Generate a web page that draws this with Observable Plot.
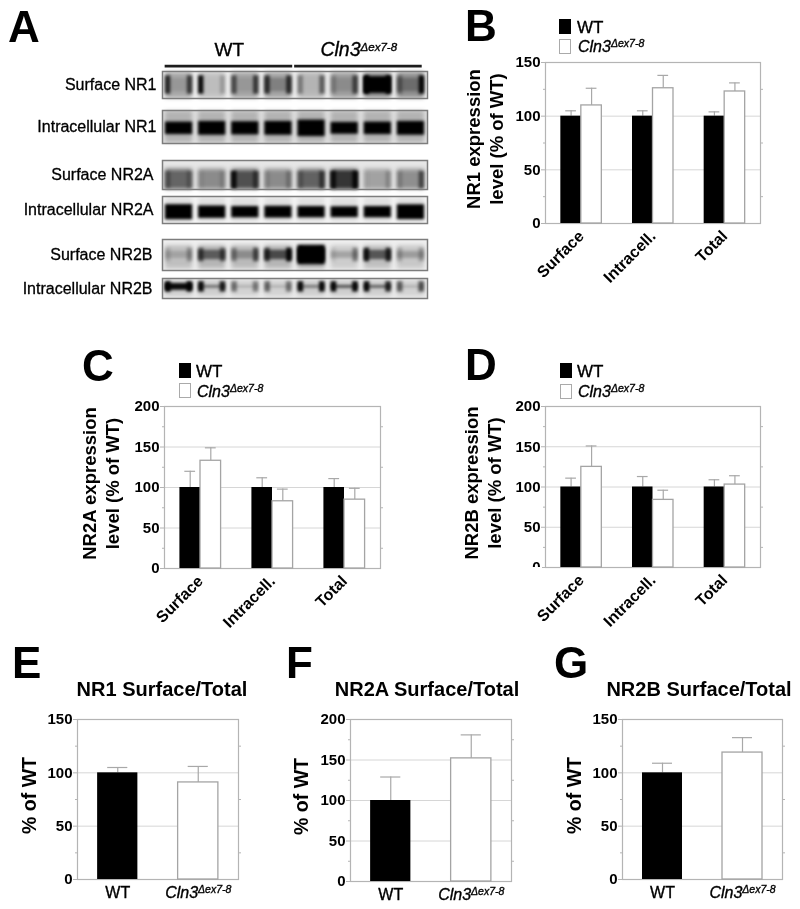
<!DOCTYPE html>
<html><head><meta charset="utf-8">
<script src="https://cdn.jsdelivr.net/npm/d3@7"></script>
<script src="https://cdn.jsdelivr.net/npm/@observablehq/plot@0.6"></script>
<style>
html,body{margin:0;padding:0;background:#fff}
#page{position:relative;width:800px;height:909px;overflow:hidden;background:#fff;font-family:"Liberation Sans",Arial,sans-serif;color:#000}
#page svg{position:absolute;overflow:visible;background:transparent}
.t{position:absolute;white-space:nowrap;line-height:1}
.soft{filter:blur(0.5px)}
</style></head><body><div id="page" class="soft"></div>
<script>
// ---------- data ----------
const groups = ["Surface","Intracell.","Total"];
const seriesNames = ["WT","Cln3Δex7-8"];

const nr1Wt=[100,100,100], nr1WtUp=[105,105,104], nr1Ko=[110,126,123], nr1KoUp=[126,138,131];
const nr2aWt=[100,100,100], nr2aWtUp=[120,112,111], nr2aKo=[133,83,85], nr2aKoUp=[149,98,99];
const nr2bWt=[100,100,100], nr2bWtUp=[111,113,109], nr2bKo=[125,84,103], nr2bKoUp=[151,96,114];

const ratioNr1=[100,91], ratioNr1Up=[105,106];
const ratioNr2a=[100,152], ratioNr2aUp=[129,181];
const ratioNr2b=[100,119], ratioNr2bUp=[109,133];

const blotNames=["Surface NR1","Intracellular NR1","Surface NR2A","Intracellular NR2A","Surface NR2B","Intracellular NR2B"];
const blotSmear=[
 [.3,.2,.32,.32,.24,.34,.4,.4],
 [.2,.2,.2,.2,.2,.2,.2,.2],
 [.5,.38,.5,.36,.48,.58,.28,.34],
 [.08,.08,.08,.08,.08,.08,.08,.08],
 [.2,.24,.22,.24,.26,.14,.2,.16],
 [.12,.12,.1,.1,.12,.12,.12,.1]];
const blotCore=[
 [.1,.02,.08,.22,.02,.12,1,.25],
 [1,1,1,1,1,1,1,1],
 [.12,.02,.3,.05,.18,.45,.02,.05],
 [1,1,1,1,1,1,1,1],
 [.15,.5,.25,.6,1,.2,.55,.22],
 [.95,.55,.22,.22,.5,.75,.65,.22]];
const blotSize=[
 [.5,.5,.5,.5,.5,.5,.62,.5],
 [.38,.42,.4,.42,.5,.36,.38,.42],
 [.55,.5,.55,.5,.55,.6,.5,.5],
 [.56,.46,.42,.44,.42,.4,.42,.55],
 [.22,.3,.26,.3,.62,.22,.3,.22],
 [.34,.12,.1,.1,.12,.12,.12,.1]];
const blotLeft=[
 [.75,.95,.55,.7,.35,.2,1,.35],
 [0,0,0,0,0,0,0,0],
 [.3,.08,.9,.12,.25,.8,.04,.18],
 [0,0,0,0,0,0,0,0],
 [.15,.55,.35,.65,1,.08,.85,.2],
 [.95,.95,.45,.5,.95,.95,.95,.55]];
const blotRight=[
 [.65,.2,.65,.7,.5,.6,.9,.95],
 [0,0,0,0,0,0,0,0],
 [.25,.15,.5,.25,.55,.9,.2,.55],
 [0,0,0,0,0,0,0,0],
 [.3,.5,.6,.95,.9,.4,.75,.25],
 [.9,.85,.4,.45,.95,.95,.8,.6]];

const laneSpans=[{name:"WT",from:0,to:4},{name:"Cln3Δex7-8",from:4,to:8}];

// ---------- layout ----------
const page=document.getElementById("page");
const FONT='"Liberation Sans",Arial,sans-serif';
function place(svg,left,top){svg.style.left=left+"px";svg.style.top=top+"px";page.appendChild(svg);return svg;}
function cln3Tspans(svg,big,small){
  svg.querySelectorAll("text").forEach(el=>{
    const host=el.querySelector("tspan")||el;
    const s=(host.textContent||"").trim();
    if(s===seriesNames[0]){el.setAttribute("stroke","#000");el.setAttribute("stroke-width",".35");el.setAttribute("fill","#000");}
    if(s!==seriesNames[1])return;
    el.setAttribute("stroke","#000");el.setAttribute("stroke-width",".35");el.setAttribute("fill","#000");
    host.textContent="";
    const a=document.createElementNS("http://www.w3.org/2000/svg","tspan");
    a.textContent="Cln3";a.setAttribute("font-style","italic");a.setAttribute("font-size",big);
    const b=document.createElementNS("http://www.w3.org/2000/svg","tspan");
    b.textContent="Δex7-8";b.setAttribute("font-style","italic");b.setAttribute("font-size",small);
    b.setAttribute("dy","-5");
    host.appendChild(a);host.appendChild(b);
  });
}
function textAt(x,baseline,size,html,style=""){
  const d=document.createElement("div");d.className="t";
  d.style.cssText=`left:${x}px;top:${baseline-0.8465*size}px;font-size:${size}px;${style}`;
  d.innerHTML=html;page.appendChild(d);return d;
}
function legend(sx,y1,y2,tx,b1,b2){
  const sw=(y,fill,stroke)=>{const d=document.createElement("div");
    d.style.cssText=`position:absolute;left:${sx}px;top:${y}px;width:10px;height:13px;background:${fill};border:1px solid ${stroke}`;page.appendChild(d);};
  sw(y1,"#000","#000");sw(y2,"#fff","#aaa");
  textAt(tx,b1,17,"WT","-webkit-text-stroke:.35px #000");
  textAt(tx+1,b2,16,'<i>Cln3</i><sup style="font-size:10.5px;line-height:0;vertical-align:5px"><i>Δex7-8</i></sup>',"-webkit-text-stroke:.35px #000");
}

function barPanel({cats,rows,ymax,major,minor,frame,ylabel,ylabelDx,barHalf,capHalf,rotated,tickSize:ts=15,yLabelSize=18.5}){
  const [L,T,R,B]=frame;
  const ml=70,mr=8,mt=6,mb=78;
  const n=cats.length;
  const data=rows.map(r=>{
    const c=r.group+0.5;
    return {...r,x1:r.series===0?(n===2?r.group+.5-barHalf:c-2*barHalf):(n===2?r.group+.5-barHalf:c),
      x2:r.series===0?(n===2?r.group+.5+barHalf:c):(n===2?r.group+.5+barHalf:c+2*barHalf)};
  }).map(r=>({...r,xc:(r.x1+r.x2)/2,c1:(r.x1+r.x2)/2-capHalf,c2:(r.x1+r.x2)/2+capHalf}));
  const gridColor="#d6d6d6",lineColor="#b4b4b4";
  const svg=Plot.plot({
    width:R-L+ml+mr,height:B-T+mt+mb,
    marginLeft:ml,marginRight:mr,marginTop:mt,marginBottom:mb,
    x:{domain:[0,n],axis:null},
    y:{domain:[0,ymax],axis:null},
    style:{fontFamily:FONT,fontWeight:"bold",fontSize:ts+"px",background:"transparent",color:"#000",overflow:"visible"},
    marks:[
      Plot.ruleY(major.filter(v=>v>0&&v<ymax),{stroke:gridColor,strokeWidth:1}),
      Plot.frame({stroke:lineColor,strokeWidth:1.2}),
      Plot.axisY({anchor:"right",ticks:minor,tickSize:2,tickFormat:()=>"",label:null,stroke:lineColor}),
      Plot.axisY({anchor:"left",ticks:minor,tickSize:2,tickFormat:()=>"",label:null,stroke:lineColor}),
      Plot.axisY({anchor:"left",ticks:major,tickSize:4,tickPadding:1,label:null,stroke:lineColor,fill:"#000",fontSize:ts,fontWeight:"bold"}),
      Plot.ruleX(data,{x:"xc",y1:"value",y2:"upper",stroke:"#a8a8a8",strokeWidth:1.2}),
      Plot.ruleY(data,{x1:"c1",x2:"c2",y:"upper",stroke:"#a8a8a8",strokeWidth:1.2}),
      Plot.rect(data.filter(d=>d.series===0),{x1:"x1",x2:"x2",y1:0,y2:"value",fill:"#000"}),
      Plot.rect(data.filter(d=>d.series===1),{x1:"x1",x2:"x2",y1:0,y2:"value",fill:"#fff",stroke:"#a4a4a4",strokeWidth:1.3}),
      rotated
       ? Plot.axisX({anchor:"bottom",ticks:cats.map((_,i)=>i+.5),tickFormat:v=>cats[Math.floor(v)],tickSize:0,tickPadding:10,tickRotate:-45,label:null,fontSize:16,fontWeight:"bold"})
       : Plot.axisX({anchor:"bottom",ticks:cats.map((_,i)=>i+.5),tickFormat:v=>cats[Math.floor(v)],tickSize:0,tickPadding:7,label:null,fontSize:16,fontWeight:"normal"}),
      Plot.text([ylabel],{frameAnchor:"left",dx:ylabelDx,dy:-4,rotate:-90,fontSize:yLabelSize,fontWeight:"bold",lineHeight:1.24,textAnchor:"middle"})
    ]
  });
  cln3Tspans(svg,"16px","10.5px");
  return place(svg,L-ml,T-mt);
}
function groupRows(wt,wtUp,ko,koUp){
  const out=[];
  groups.forEach((g,i)=>{out.push({group:i,series:0,value:wt[i],upper:wtUp[i]});out.push({group:i,series:1,value:ko[i],upper:koUp[i]});});
  return out;
}
function pairRows(v,up){return v.map((d,i)=>({group:i,series:i,value:d,upper:up[i]}));}

// Panel letters
[["A",8,42],["B",465,41],["C",82,381],["D",465,380],["E",12,678],["F",286,678],["G",554,678]]
  .forEach(([s,x,b])=>textAt(x,b,44,s,"font-weight:bold"));

// Panel A : blots
const blotGeom=[
 {top:71,h:27,bg:"#f2f2f2",sy:[.04,1],c:.5,sp:.34,dx:-6},
 {top:110,h:33,bg:"#e0e0e0",sy:[.02,.98],c:.54,sp:.3,dx:-6},
 {top:160,h:29,bg:"#e6e6e6",sy:[.3,1],c:.68,sp:.3,dx:-9},
 {top:196,h:27,bg:"#f4f4f4",sy:[.05,.95],c:.58,sp:.3,dx:-9},
 {top:239,h:31,bg:"#efefef",sy:[.2,.95],c:.5,sp:.22,dx:-10},
 {top:278,h:20,bg:"#ebebeb",sy:[.1,.9],c:.42,sp:.26,dx:-10}];
blotNames.forEach((name,b)=>{
  const g=blotGeom[b];
  const lanes=d3.range(8).map(i=>{
    const s=blotSize[b][i];
    return {x1:i+.09,x2:i+.91,smear:blotSmear[b][i],core:blotCore[b][i],
            left:blotLeft[b][i],right:blotRight[b][i],c1:g.c-s/2,c2:g.c+s/2,
            e1:g.c-g.sp,e2:g.c+g.sp};
  });
  const spotW=(b===5)?.17:.16;
  const svg=Plot.plot({
    width:440,height:g.h+6,marginLeft:162,marginRight:13,marginTop:3,marginBottom:3,
    x:{domain:[0,8],axis:null},
    y:{domain:[0,1],range:[3,g.h+3],axis:null},
    style:{fontFamily:FONT,fontSize:"16px",background:"transparent",color:"#000",overflow:"visible"},
    marks:[
      Plot.frame({fill:g.bg,stroke:null}),
      Plot.rect(lanes,{x1:"x1",x2:"x2",y1:g.sy[0],y2:g.sy[1],fill:"#000",fillOpacity:"smear",imageFilter:"blur(2.2px)"}),
      Plot.rect(lanes,{x1:"x1",x2:"x2",y1:"c1",y2:"c2",fill:"#000",fillOpacity:"core",imageFilter:"blur(1.8px)"}),
      Plot.rect(lanes,{x1:d=>d.x1,x2:d=>d.x1+spotW,y1:"e1",y2:"e2",fill:"#000",fillOpacity:"left",imageFilter:"blur(1.8px)"}),
      Plot.rect(lanes,{x1:d=>d.x2-spotW,x2:d=>d.x2,y1:"e1",y2:"e2",fill:"#000",fillOpacity:"right",imageFilter:"blur(1.8px)"}),
      Plot.frame({stroke:"#7d7d7d",strokeWidth:1.5}),
      Plot.text([name],{frameAnchor:"left",textAnchor:"end",dx:g.dx,fill:"#000",stroke:"#000",strokeWidth:.3})
    ]
  });
  place(svg,0,g.top-3);
});
// header of panel A
(()=>{
  const svg=Plot.plot({
    width:440,height:34,marginLeft:164,marginRight:17,marginTop:2,marginBottom:2,
    x:{domain:[0,8],axis:null},
    y:{domain:[0,1],axis:null},
    style:{fontFamily:FONT,fontSize:"17px",background:"transparent",color:"#000",overflow:"visible"},
    marks:[
      Plot.ruleY(laneSpans,{x1:d=>d.from+.02,x2:d=>d.to-.04,y:.08,stroke:"#1c1c1c",strokeWidth:2.6}),
      Plot.text(laneSpans,{x:d=>(d.from+d.to)/2,y:.62,text:"name",fill:"#000",stroke:"#000",strokeWidth:.35,fontSize:19})
    ]
  });
  cln3Tspans(svg,"19.5px","11.5px");
  place(svg,0,36);
})();

// Panels B, C, D
legend(559,19,39,577,33,53);
barPanel({cats:groups,rows:groupRows(nr1Wt,nr1WtUp,nr1Ko,nr1KoUp),ymax:150,major:[0,50,100,150],minor:[25,75,125],
  frame:[545,62,760,223],ylabel:"NR1 expression\nlevel (% of WT)",ylabelDx:-61,barHalf:.143,capHalf:.075,rotated:true});
legend(179,363,383,196,377,398);
barPanel({cats:groups,rows:groupRows(nr2aWt,nr2aWtUp,nr2aKo,nr2aKoUp),ymax:200,major:[0,50,100,150,200],minor:[25,75,125,175],
  frame:[164,406,380,568],ylabel:"NR2A expression\nlevel (% of WT)",ylabelDx:-64,barHalf:.143,capHalf:.075,rotated:true});
legend(560,363,384,577,377,398);
barPanel({cats:groups,rows:groupRows(nr2bWt,nr2bWtUp,nr2bKo,nr2bKoUp),ymax:200,major:[0,50,100,150,200],minor:[25,75,125,175],
  frame:[545,406,760,567],ylabel:"NR2B expression\nlevel (% of WT)",ylabelDx:-63,barHalf:.143,capHalf:.075,rotated:true});
const crop=document.createElement("div");
crop.style.cssText="position:absolute;left:522px;top:567px;width:20px;height:8px;background:#fff";page.appendChild(crop);

// Panels E, F, G
function title(cx,s){const d=textAt(cx,696,20,s,"font-weight:bold;transform:translateX(-50%)");return d;}
title(162,"NR1 Surface/Total");title(427,"NR2A Surface/Total");title(699,"NR2B Surface/Total");
barPanel({cats:seriesNames,rows:pairRows(ratioNr1,ratioNr1Up),ymax:150,major:[0,50,100,150],minor:[25,75,125],
  frame:[77,719,238,879],ylabel:"% of WT",ylabelDx:-49,barHalf:.25,capHalf:.125,rotated:false,yLabelSize:19.5});
barPanel({cats:seriesNames,rows:pairRows(ratioNr2a,ratioNr2aUp),ymax:200,major:[0,50,100,150,200],minor:[25,75,125,175],
  frame:[350,719,511,881],ylabel:"% of WT",ylabelDx:-50,barHalf:.25,capHalf:.125,rotated:false,yLabelSize:19.5});
barPanel({cats:seriesNames,rows:pairRows(ratioNr2b,ratioNr2bUp),ymax:150,major:[0,50,100,150],minor:[25,75,125],
  frame:[622,719,782,879],ylabel:"% of WT",ylabelDx:-49,barHalf:.25,capHalf:.125,rotated:false,yLabelSize:19.5});
</script></body></html>
